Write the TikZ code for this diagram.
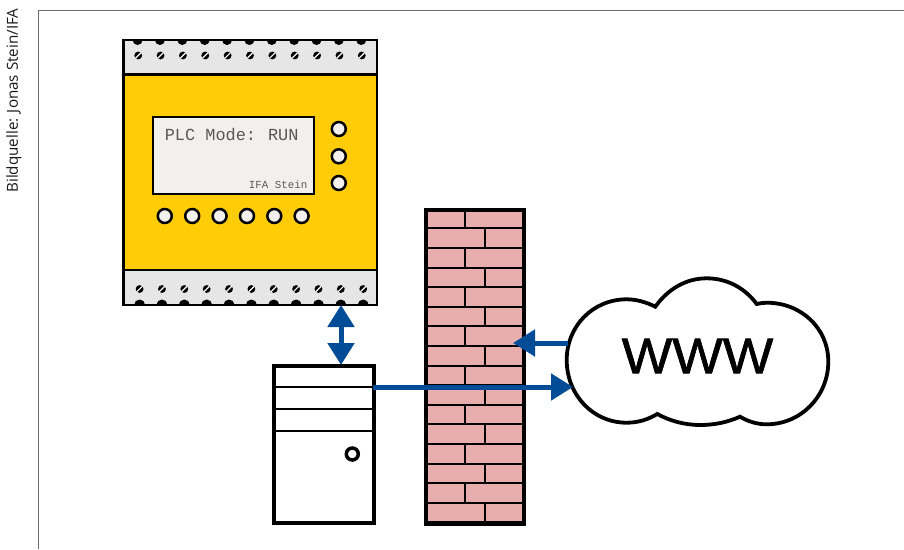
\documentclass[tikz,border=0pt]{standalone}
\usepackage{fontspec}
\setmainfont{Open Sans}
\newfontfamily\monof{Liberation Mono}
\newfontfamily\wwwf[FakeBold=1.2]{Liberation Sans}
\usetikzlibrary{arrows.meta}
\definecolor{plcyellow}{HTML}{FFCC06}
\definecolor{bandgray}{HTML}{E6E6E6}
\definecolor{screengray}{HTML}{F1F0EC}
\definecolor{brick}{HTML}{E8ADAD}
\definecolor{flowblue}{HTML}{004C97}
\definecolor{framegray}{HTML}{6E6E6E}
\tikzset{
  x=1pt,y=-1pt,
  box/.style={draw=black,line width=2.4pt,rectangle,inner sep=0pt,outer sep=0pt,anchor=north west},
  knob/.style={draw=black,line width=2.5pt,fill=screengray,circle,minimum size=14pt,inner sep=0pt},
  flow/.style={draw=flowblue,line width=5pt},
  tipA/.style={-{Triangle[width=26pt,length=22pt]}},
  tipB/.style={{Triangle[width=26pt,length=22pt]}-{Triangle[width=26pt,length=22pt]}},
  tipC/.style={-{Triangle[width=26pt,length=22pt]}}
}
\begin{document}
\begin{tikzpicture}
\useasboundingbox (0,0) rectangle (904,549);
\fill[white] (0,0) rectangle (904,549);
% frame and credit
\draw[framegray,line width=1.2pt] (38.5,549) -- (38.5,10.5) -- (904,10.5);
\node[rotate=90,inner sep=0pt,text=black!90] (credit) at (14,100.5) {\fontsize{15.2}{17}\selectfont Bildquelle: Jonas Stein/IFA};
% PLC
\node[box,fill=plcyellow,minimum width=253.5pt,minimum height=265pt] (plc) at (123.5,40) {};
\node[box,fill=bandgray,minimum width=253.5pt,minimum height=34.5pt] (plctop) at (123.5,40) {};
\node[box,fill=bandgray,minimum width=253.5pt,minimum height=35pt] (plcbot) at (123.5,270) {};
\begin{scope}
\clip (123.5,40) rectangle (377,305);
\foreach \i in {0,...,10}{
  \pgfmathsetmacro{\xt}{137.6+22.36*\i}
  \pgfmathsetmacro{\xb}{139.6+22.36*\i}
  \fill (\xt,40) circle (5);
  \fill (\xb,305) circle (5.5);
  \fill (\xt+0.6,55.5) circle (3.9);
  \draw[white,line width=1.2pt] (\xt+0.6-2.8,55.5+2.8) -- (\xt+0.6+2.8,55.5-2.8);
  \fill (\xb,289) circle (3.9);
  \draw[white,line width=1.2pt] (\xb-2.8,289+2.8) -- (\xb+2.8,289-2.8);
}
\end{scope}
\draw[line width=2.4pt] (123.5,40) rectangle (377,305);
\node[box,fill=screengray,minimum width=161pt,minimum height=77pt] (screen) at (153,117) {};
\node[inner sep=0pt,anchor=base west,text=black!65] (mode) at (164.6,140) {\monof\fontsize{16.9}{18}\selectfont PLC Mode:\hspace{-1.5pt} RUN};
\node[inner sep=0pt,anchor=base east,text=black!65] (brand) at (307.5,188.5) {\monof\fontsize{10.8}{12}\selectfont IFA Stein};
\node[knob] (kr1) at (338.8,129) {};
\node[knob] (kr2) at (338.8,156.3) {};
\node[knob] (kr3) at (338.8,183) {};
\foreach \i/\xx in {1/164.8,2/192.2,3/219.6,4/247,5/274.3,6/301.6}
  \node[knob] (kb\i) at (\xx,216) {};
% server
\node[box,line width=4pt,fill=white,minimum width=100pt,minimum height=156.5pt] (server) at (273.5,366) {};
\draw[line width=2.2pt] (273.5,387.3) -- (373.5,387.3);
\draw[line width=2.2pt] (273.5,409) -- (373.5,409);
\draw[line width=2pt] (273.5,431) -- (373.5,431);
\node[draw=black,line width=3.5pt,circle,minimum size=12pt,inner sep=0pt] (led) at (352.3,454) {};
% wall
\fill[brick] (426,210) rectangle (524,522);
\foreach \r in {1,...,15}
  \draw[line width=2pt] (426,208.7+19.6*\r) -- (524,208.7+19.6*\r);
\foreach \r in {0,2,...,14}{
  \draw[line width=2pt] (465,208.7+19.6*\r) -- (465,208.7+19.6*\r+19.6);
  \draw[line width=2pt] (485.3,208.7+19.6*\r+19.6) -- (485.3,208.7+19.6*\r+39.2);
}
\node[box,line width=4.5pt,minimum width=98pt,minimum height=313.5pt] (wall) at (426,210) {};
% cloud
\draw[line width=3.8pt,fill=white,line join=miter]
  (655.3,306.7) .. controls (646,302) and (636,299.3) .. (626.7,299.3)
  .. controls (593,299.3) and (566.7,326) .. (566.7,360)
  .. controls (566.7,395) and (593,422.7) .. (626.7,422.7)
  .. controls (638,422.7) and (648,419.5) .. (657.3,414)
  .. controls (670,421) and (685,425) .. (700,425)
  .. controls (715,425) and (728,422) .. (740,416.7)
  .. controls (748,421.5) and (757,424.3) .. (766.7,424.3)
  .. controls (801,424.3) and (828.3,396) .. (828.3,361.7)
  .. controls (828.3,328) and (801,302.7) .. (766.7,302.7)
  .. controls (763,302.7) and (760,303.3) .. (756.7,304)
  .. controls (745,288) and (727,278.3) .. (706.7,278.3)
  .. controls (686,278.3) and (668,289) .. cycle;
\node[inner sep=0pt,xscale=1.07] (www) at (697.5,356) {\wwwf\fontsize{50}{52}\selectfont WWW};
% connectors
\coordinate (plcport) at (341,305);
\coordinate (srvport) at (341,365);
\coordinate (srvout) at (373,387);
\coordinate (cloudin) at (573,387);
\coordinate (cloudout) at (568,343);
\coordinate (wallhit) at (513,343);
\draw[flow,tipB] (plcport) -- (srvport);
\draw[flow,tipA] (srvout) -- (cloudin);
\draw[flow,tipC] (cloudout) -- (wallhit);
\end{tikzpicture}
\end{document}
